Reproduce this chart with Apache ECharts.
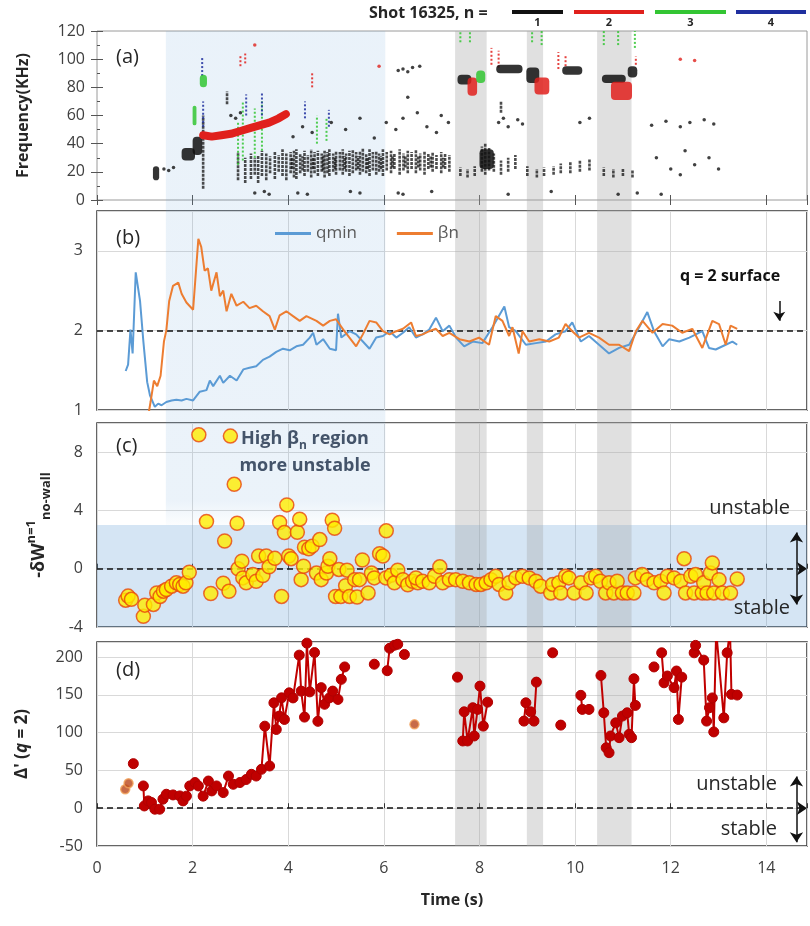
<!DOCTYPE html>
<html>
<head>
<meta charset="utf-8">
<script src="https://cdn.jsdelivr.net/npm/echarts@6/dist/echarts.min.js"></script>
<style>
  html, body { margin: 0; padding: 0; background: #fff; }
  #main { width: 810px; height: 926px; }
</style>
</head>
<body>
<div id="main"></div>
<script>
var T_MAX = 14.85;
var FONT = 'Open Sans';

// n = 1..4 mode colours of the spectrogram
var modeColors = ['#111111', '#e0201c', '#33c533', '#1f2f9f'];
var modeLabels = ['1', '2', '3', '4'];

// shaded time windows [t0, t1]
var blueWindow = [1.44, 6.03];
var greyWindows = [[7.49, 8.15], [8.99, 9.33], [10.46, 11.18]];

// (a) spectrogram: dense blobs [t0, t1, f0, f1, n]
var specBlobs = [
  [1.17, 1.30, 14, 24, 1], [1.77, 2.05, 28, 37, 1], [2.00, 2.20, 32, 45, 1],
  [7.54, 7.83, 82, 89, 1], [8.35, 8.90, 90, 96, 1], [8.98, 9.25, 83, 94, 1],
  [9.73, 10.15, 89, 95, 1], [10.56, 11.06, 83, 89, 1], [11.10, 11.30, 87, 95, 1],
  [8.00, 8.30, 22, 36, 1],
  [7.75, 7.95, 74, 87, 2], [9.15, 9.46, 75, 87, 2], [10.75, 11.19, 71, 84, 2],
  [2.15, 2.30, 80, 89, 3], [7.93, 8.12, 83, 92, 3], [2.00, 2.08, 53, 67, 3]
];
// (a) chirping n = 2 mode ridge [t, f]
var redRidge = [
  [2.22, 46], [2.4, 45], [2.6, 46], [2.8, 47], [3.0, 49], [3.2, 51],
  [3.4, 53], [3.6, 55], [3.8, 58], [3.95, 61]
];
// (a) vertical streaks [t, f0, f1, n]
var specStreaks = [
  [2.95, 14, 34, 1], [3.1, 12, 30, 1], [3.22, 15, 33, 1], [3.3, 18, 30, 1], [3.37, 12, 32, 1],
  [3.45, 17, 35, 1], [3.54, 14, 33, 1], [3.62, 19, 31, 1], [3.72, 15, 34, 1], [3.8, 20, 32, 1],
  [3.88, 17, 36, 1], [3.96, 14, 33, 1], [4.05, 19, 34, 1], [4.12, 16, 35, 1], [4.17, 15, 36, 1],
  [4.25, 19, 33, 1], [4.34, 17, 35, 1], [4.41, 20, 32, 1], [4.48, 16, 36, 1], [4.55, 19, 34, 1],
  [4.62, 17, 35, 1], [4.7, 20, 33, 1], [4.76, 16, 35, 1], [4.82, 19, 34, 1], [4.86, 17, 36, 1],
  [4.94, 20, 33, 1], [5.0, 18, 35, 1], [5.08, 21, 34, 1], [5.14, 18, 36, 1], [5.21, 20, 33, 1],
  [5.28, 17, 35, 1], [5.35, 19, 36, 1], [5.42, 21, 34, 1], [5.5, 18, 35, 1], [5.56, 20, 37, 1],
  [5.63, 19, 33, 1], [5.7, 17, 36, 1], [5.77, 21, 34, 1], [5.84, 18, 35, 1], [5.9, 20, 33, 1],
  [5.98, 17, 36, 1], [6.06, 21, 34, 1], [6.15, 19, 35, 1], [6.22, 22, 33, 1], [6.33, 18, 36, 1],
  [6.41, 21, 33, 1], [6.5, 19, 35, 1], [6.58, 22, 34, 1], [6.67, 19, 36, 1], [6.76, 21, 33, 1],
  [6.85, 18, 35, 1], [6.93, 22, 33, 1], [7.02, 20, 34, 1], [7.1, 22, 32, 1], [7.2, 19, 34, 1],
  [7.28, 22, 33, 1], [7.37, 20, 32, 1],
  [4.08, 22, 30, 1], [4.3, 21, 31, 1], [4.52, 22, 30, 1], [4.73, 21, 31, 1], [4.98, 22, 30, 1],
  [5.18, 22, 31, 1], [5.46, 22, 31, 1], [5.66, 22, 30, 1], [5.94, 22, 31, 1], [6.18, 23, 31, 1],
  [6.45, 23, 31, 1], [6.72, 23, 31, 1], [6.98, 23, 31, 1], [7.24, 23, 30, 1],
  [7.6, 17, 23, 1], [7.75, 16, 22, 1], [7.9, 17, 24, 1], [8.05, 20, 38, 1], [8.12, 18, 40, 1],
  [8.2, 21, 37, 1], [8.3, 20, 33, 1], [8.45, 18, 28, 1], [8.6, 20, 30, 1], [8.75, 22, 32, 1],
  [9.0, 17, 24, 1], [9.2, 16, 22, 1], [9.35, 17, 23, 1], [9.55, 18, 24, 1], [9.7, 19, 26, 1],
  [9.9, 19, 27, 1], [10.1, 20, 28, 1], [10.3, 21, 29, 1], [10.6, 17, 23, 1], [10.8, 16, 22, 1],
  [11.0, 17, 22, 1], [11.2, 16, 21, 1],
  [2.22, 8, 60, 1], [2.72, 68, 77, 1], [8.45, 62, 70, 1],
  [2.95, 25, 55, 3], [3.05, 28, 70, 3], [3.3, 30, 65, 3], [3.45, 35, 70, 3], [4.6, 40, 60, 3],
  [4.8, 42, 58, 3], [7.6, 112, 120, 3], [7.8, 112, 120, 3], [9.1, 112, 120, 3], [9.3, 110, 120, 3],
  [10.6, 110, 120, 3], [10.9, 110, 120, 3], [11.25, 108, 120, 3],
  [2.2, 88, 102, 4], [2.22, 52, 70, 4], [3.12, 60, 75, 4], [3.45, 60, 76, 4], [4.35, 58, 70, 4], [4.85, 52, 64, 4],
  [3.0, 95, 103, 2], [3.1, 97, 104, 2], [4.5, 80, 90, 2], [8.25, 96, 108, 2], [8.4, 94, 106, 2],
  [9.65, 93, 105, 2], [9.8, 95, 103, 2], [11.27, 96, 102, 2]
];
// (a) scattered dots [t, f, n]
var specDots = [
  [1.4, 22, 1], [1.5, 21, 1], [1.6, 23, 1], [2.8, 60, 1], [2.9, 58, 1], [3.0, 62, 1],
  [3.3, 5, 1], [3.5, 6, 1], [3.6, 4, 1], [4.2, 5, 1], [4.4, 4, 1], [5.3, 6, 1], [5.5, 5, 1],
  [6.3, 5, 1], [6.4, 4, 1], [7.0, 6, 1], [8.6, 4, 1], [9.5, 6, 1], [10.9, 4, 1], [11.3, 5, 1], [11.8, 4, 1],
  [4.1, 45, 1], [4.3, 52, 1], [4.5, 48, 1], [4.9, 55, 1], [5.2, 50, 1], [5.5, 58, 1], [5.8, 44, 1],
  [6.05, 55, 1], [6.25, 50, 1], [6.4, 58, 1], [6.7, 62, 1], [6.9, 52, 1], [7.1, 48, 1], [7.2, 60, 1], [7.35, 55, 1],
  [6.3, 92, 1], [6.4, 93, 1], [6.5, 91, 1], [6.6, 94, 1], [6.75, 95, 1], [6.5, 73, 1],
  [8.4, 55, 1], [8.5, 58, 1], [8.6, 52, 1], [8.8, 57, 1], [8.9, 54, 1], [10.3, 58, 1], [10.1, 55, 1],
  [11.6, 53, 1], [11.9, 56, 1], [12.2, 52, 1], [12.4, 55, 1], [12.7, 57, 1], [12.9, 54, 1],
  [11.7, 30, 1], [12.0, 22, 1], [12.3, 35, 1], [12.5, 25, 1], [12.8, 30, 1], [13.0, 22, 1], [12.2, 18, 1],
  [12.2, 100, 2], [12.5, 99, 2], [3.3, 110, 2], [5.9, 95, 2]
];

// (b) q_min and beta_n [t, value]
var qmin = [
  [0.6, 1.49], [0.65, 1.57], [0.7, 2.01], [0.745, 1.71], [0.81, 2.73], [0.9, 2.37], [0.97, 1.86],
  [1.05, 1.35], [1.11, 1.18], [1.21, 1.04], [1.28, 1.08], [1.35, 1.06], [1.45, 1.1], [1.56, 1.12],
  [1.66, 1.13], [1.77, 1.12], [1.87, 1.14], [2.01, 1.12], [2.15, 1.23], [2.29, 1.25], [2.36, 1.37],
  [2.43, 1.3], [2.57, 1.43], [2.64, 1.34], [2.78, 1.43], [2.92, 1.37], [3.06, 1.51], [3.19, 1.53],
  [3.33, 1.55], [3.47, 1.63], [3.61, 1.67], [3.75, 1.73], [3.89, 1.77], [4.03, 1.75], [4.17, 1.8],
  [4.31, 1.82], [4.45, 1.91], [4.52, 1.97], [4.59, 1.82], [4.73, 1.89], [4.87, 1.77], [5.0, 1.75],
  [5.04, 2.21], [5.11, 1.91], [5.28, 1.99], [5.42, 1.95], [5.56, 1.86], [5.7, 1.77], [5.84, 1.91],
  [5.98, 1.93], [6.12, 1.99], [6.26, 1.91], [6.4, 1.97], [6.53, 2.04], [6.67, 1.91], [6.81, 1.95],
  [6.95, 2.01], [7.09, 2.16], [7.23, 1.99], [7.37, 2.06], [7.51, 1.91], [7.68, 1.8], [7.86, 1.86],
  [8.06, 1.84], [8.27, 2.04], [8.52, 2.3], [8.62, 2.04], [8.76, 1.99], [8.97, 1.82], [9.18, 1.84],
  [9.39, 1.86], [9.59, 1.95], [9.8, 1.99], [9.94, 2.1], [10.12, 1.86], [10.29, 1.93], [10.5, 1.82],
  [10.71, 1.71], [10.92, 1.78], [11.13, 1.82], [11.34, 2.04], [11.51, 2.23], [11.65, 1.99], [11.83, 1.8],
  [11.97, 1.89], [12.18, 1.86], [12.39, 1.91], [12.66, 1.99], [12.8, 1.78], [12.94, 1.76], [13.15, 1.82],
  [13.29, 1.86], [13.39, 1.82]
];
var betaN = [
  [1.05, 0.85], [1.12, 1.1], [1.19, 1.37], [1.26, 1.3], [1.33, 1.43], [1.4, 1.86], [1.45, 2.0],
  [1.51, 2.37], [1.59, 2.56], [1.7, 2.6], [1.77, 2.46], [1.87, 2.35], [2.01, 2.26], [2.12, 3.15],
  [2.18, 3.05], [2.25, 2.75], [2.32, 2.78], [2.39, 2.5], [2.5, 2.73], [2.57, 2.43], [2.64, 2.5],
  [2.71, 2.24], [2.81, 2.46], [2.92, 2.31], [3.06, 2.36], [3.19, 2.28], [3.33, 2.31], [3.47, 2.24],
  [3.61, 2.18], [3.72, 2.01], [3.82, 2.19], [3.96, 2.24], [4.1, 2.18], [4.24, 2.12], [4.38, 2.18],
  [4.59, 2.12], [4.73, 2.06], [4.87, 2.12], [5.0, 2.14], [5.15, 2.01], [5.28, 1.91], [5.42, 1.8],
  [5.56, 1.95], [5.7, 2.12], [5.84, 2.1], [5.98, 1.99], [6.12, 1.95], [6.26, 1.99], [6.4, 2.02],
  [6.57, 2.1], [6.67, 1.93], [6.81, 1.95], [6.95, 1.99], [7.09, 2.02], [7.23, 1.93], [7.37, 1.97],
  [7.58, 1.89], [7.79, 1.86], [7.99, 1.91], [8.2, 1.82], [8.34, 2.18], [8.48, 2.12], [8.62, 1.93],
  [8.69, 2.04], [8.82, 1.71], [8.9, 1.99], [9.04, 1.86], [9.25, 1.89], [9.46, 1.86], [9.66, 1.91],
  [9.8, 2.08], [9.94, 1.99], [10.08, 1.91], [10.29, 1.97], [10.5, 1.91], [10.71, 1.82], [10.92, 1.82],
  [11.13, 1.74], [11.27, 1.99], [11.41, 2.12], [11.62, 1.97], [11.83, 2.08], [12.03, 2.06], [12.24, 1.97],
  [12.45, 2.02], [12.66, 1.78], [12.87, 2.12], [13.01, 2.08], [13.15, 1.82], [13.25, 2.06], [13.39, 2.02]
];

// (c) -dW (n=1, no wall) [t, value]
var deltaW = [
  [0.6, -2.16], [0.65, -1.88], [0.72, -2.1], [0.97, -3.27], [1.0, -2.5], [1.18, -2.45], [1.25, -1.66],
  [1.32, -1.9], [1.39, -1.54], [1.45, -1.43], [1.56, -1.2], [1.66, -0.97], [1.73, -1.08], [1.8, -1.2],
  [1.86, -0.97], [1.93, -0.24], [2.13, 9.19], [2.29, 3.24], [2.38, -1.7], [2.64, -1.0], [2.67, 1.9],
  [2.76, -1.55], [2.79, 9.1], [2.87, 5.79], [2.93, 3.12], [2.95, 0.0], [3.03, 0.52], [3.05, -0.63],
  [3.12, -0.97], [3.26, -0.4], [3.33, -0.86], [3.38, 0.87], [3.47, -0.47], [3.54, 0.87], [3.6, 0.13],
  [3.72, 0.71], [3.82, 3.17], [3.86, -1.9], [3.92, 2.48], [3.97, 4.38], [4.01, 0.87], [4.06, 0.69],
  [4.19, 2.5], [4.24, 3.4], [4.27, -0.75], [4.32, 0.17], [4.34, 1.48], [4.43, 1.37], [4.5, 1.55],
  [4.59, -0.3], [4.66, 2.0], [4.69, -0.75], [4.8, -0.3], [4.83, 0.17], [4.87, 0.69], [4.92, 3.33],
  [4.97, 2.78], [4.99, -1.9], [5.06, -0.05], [5.1, -1.9], [5.2, -1.17], [5.23, -0.1], [5.28, -1.9],
  [5.39, -0.75], [5.44, -1.94], [5.49, -0.75], [5.55, 0.6], [5.67, -1.66], [5.74, -0.3], [5.8, -0.63],
  [5.91, 1.03], [5.98, 0.87], [6.05, 2.6], [6.04, -0.63], [6.15, -0.45], [6.22, -0.97], [6.29, -0.1],
  [6.4, -0.75], [6.5, -1.1], [6.6, -0.86], [6.71, -0.97], [6.67, -0.63], [6.81, -0.86], [6.95, -0.97],
  [7.06, -0.52], [7.17, 0.13], [7.23, -0.97], [7.37, -0.75], [7.5, -0.75], [7.65, -0.86], [7.79, -0.97],
  [7.93, -1.08], [8.03, -1.08], [8.14, -0.97], [8.24, -0.75], [8.34, -0.52], [8.41, -1.08], [8.55, -1.66],
  [8.62, -0.97], [8.76, -0.63], [8.9, -0.52], [9.04, -0.63], [9.18, -0.86], [9.28, -1.2], [9.49, -1.66],
  [9.53, -1.08], [9.66, -0.97], [9.7, -1.66], [9.8, -0.52], [9.87, -0.63], [9.98, -1.66], [10.12, -0.97],
  [10.23, -1.66], [10.33, -0.63], [10.43, -0.52], [10.53, -0.86], [10.64, -1.66], [10.71, -0.97],
  [10.81, -1.66], [10.88, -0.86], [10.99, -1.66], [11.09, -1.66], [11.23, -1.66], [11.26, -0.63],
  [11.4, -0.4], [11.51, -0.75], [11.65, -0.97], [11.79, -0.86], [11.86, -1.66], [11.93, -0.52],
  [12.07, -0.63], [12.21, -0.86], [12.28, 0.69], [12.31, -1.66], [12.42, -0.52], [12.49, -1.66],
  [12.52, -0.4], [12.66, -1.66], [12.69, -0.97], [12.76, -1.66], [12.83, -0.3], [12.87, 0.4],
  [12.9, -1.66], [13.01, -0.75], [13.08, -1.66], [13.25, -1.66], [13.39, -0.7]
];

// (d) Delta'(q=2): connected runs [t, value]
var deltaPrimeRuns = [
  [[0.76, 59]],
  [[0.97, 29.5], [0.99, 3], [1.07, 9.7], [1.14, 7.5], [1.21, -1.3], [1.31, -1.3], [1.38, 12], [1.45, 18.5],
   [1.59, 17.6], [1.73, 16.3], [1.8, 9.7], [1.87, 16], [1.94, 29.5], [2.05, 34], [2.12, 29.5], [2.22, 16],
   [2.33, 36], [2.4, 22.9], [2.5, 29.5], [2.64, 20.7], [2.75, 42.6], [2.85, 31.7], [2.99, 34], [3.12, 38],
   [3.23, 44.9], [3.33, 42.6], [3.44, 51.5], [3.51, 108.6], [3.61, 55.9], [3.7, 139.5], [3.75, 104.2],
   [3.81, 121.9], [3.86, 146.1], [3.92, 117.5], [4.02, 152.7], [4.1, 146], [4.23, 202.6], [4.27, 155],
   [4.34, 120.6], [4.39, 218.5], [4.45, 154], [4.55, 206], [4.62, 115], [4.69, 159.6], [4.76, 137.6],
   [4.86, 146], [4.93, 155], [5.04, 144], [5.11, 170.6], [5.18, 187]],
  [[5.8, 190.6]],
  [[6.07, 182], [6.12, 211.7], [6.22, 215.7], [6.29, 217]],
  [[6.43, 203.5]],
  [[7.54, 173.5]],
  [[7.65, 89], [7.68, 127.6], [7.75, 89], [7.86, 133], [7.89, 95.6], [7.96, 130.8], [8.01, 161.6],
   [8.08, 108.7], [8.17, 140.4]],
  [[8.93, 115.3], [8.97, 139.5], [9.07, 127.6], [9.14, 115.3], [9.19, 166.9]],
  [[9.53, 205.7]],
  [[9.7, 110]],
  [[10.12, 149.4], [10.15, 130.8], [10.29, 130.8]],
  [[10.54, 175.7], [10.6, 126.3], [10.65, 80], [10.71, 73.5], [10.74, 95.6], [10.85, 113], [10.92, 93.4],
   [10.99, 122], [11.09, 126.3], [11.13, 97.8], [11.18, 93.4], [11.23, 171.3], [11.26, 136.1]],
  [[11.65, 187]],
  [[11.81, 205.7], [11.86, 166], [11.93, 175], [12.07, 159.6], [12.12, 181.6], [12.16, 117.5], [12.23, 173.5]],
  [[12.49, 205.7], [12.52, 215.5], [12.69, 196], [12.75, 115.3], [12.81, 133], [12.87, 146], [12.9, 101],
   [12.95, 235], [13.11, 119.6], [13.18, 205.7], [13.24, 235], [13.27, 150.7], [13.39, 149.8]]
];
var deltaPrimeFaint = [[0.59, 25], [0.66, 33], [6.64, 111]];

// ---- build ----
var deltaPrimeLine = [];
deltaPrimeRuns.forEach(function (run, i) {
  if (i) deltaPrimeLine.push(['-', '-']);
  run.forEach(function (p) { deltaPrimeLine.push(p); });
});

var overlayData = [[blueWindow[0], blueWindow[1], 0.3935, 1, 0]];
greyWindows.forEach(function (w) { overlayData.push([w[0], w[1], 0, 1, 1]); });

var chart = echarts.init(document.getElementById('main'));

var tickColor = '#404040';
function hideOff(step) {
  return function (v) {
    var r = Math.abs(v / step - Math.round(v / step));
    return r < 1e-6 ? String(Math.round(v * 100) / 100) : '';
  };
}
function xAx(grid, extra) {
  return Object.assign({
    type: 'value', gridIndex: grid, min: 0, max: T_MAX, interval: 2,
    axisLine: { show: false }, axisTick: { show: false }, axisLabel: { show: false },
    splitLine: { show: false }
  }, extra || {});
}
function yAx(grid, extra) {
  return Object.assign({
    type: 'value', gridIndex: grid,
    axisLine: { show: false }, axisTick: { show: false },
    axisLabel: { color: tickColor, fontSize: 16, fontFamily: FONT, margin: 12 },
    splitLine: { show: false }
  }, extra || {});
}
var gridSplit = { show: true, lineStyle: { color: '#d9d9d9', width: 1 } };

var option = {
  backgroundColor: '#fff',
  animation: false,
  textStyle: { fontFamily: FONT },
  grid: [
    { left: 97, right: 3, top: 31, height: 815, show: false },
    { left: 97, right: 3, top: 31, height: 169, show: true, borderColor: '#9a9a9a', borderWidth: 1, backgroundColor: 'transparent' },
    { left: 97, right: 3, top: 211, height: 199, show: true, borderColor: '#333', borderWidth: 1.5, backgroundColor: 'transparent' },
    { left: 97, right: 3, top: 423, height: 204, show: true, borderColor: '#333', borderWidth: 1.5, backgroundColor: 'transparent' },
    { left: 97, right: 3, top: 642, height: 204, show: true, borderColor: '#333', borderWidth: 1.5, backgroundColor: 'transparent' }
  ],
  xAxis: [
    xAx(0),
    xAx(1, { axisTick: { show: true, inside: true, length: 5, lineStyle: { color: '#555' } } }),
    xAx(1, { position: 'top', axisTick: { show: true, inside: true, length: 5, lineStyle: { color: '#555' } } }),
    xAx(2, { splitLine: gridSplit }),
    xAx(3, { splitLine: gridSplit, axisTick: { show: true, inside: true, length: 5, lineStyle: { color: '#333' } } }),
    xAx(4, {
      splitLine: gridSplit,
      axisTick: { show: true, inside: true, length: 5, lineStyle: { color: '#333' } },
      axisLabel: { show: true, color: tickColor, fontSize: 16, fontFamily: FONT, margin: 14, formatter: hideOff(2) },
      name: 'Time (s)', nameLocation: 'middle', nameGap: 46,
      nameTextStyle: { fontSize: 16, fontWeight: 'bold', color: '#262626', fontFamily: FONT }
    })
  ],
  yAxis: [
    yAx(0, { min: 0, max: 1, show: false }),
    yAx(1, {
      min: 0, max: 120, interval: 20,
      axisTick: { show: true, inside: true, length: 6, lineStyle: { color: '#555' } },
      minorTick: { show: true, splitNumber: 2, length: 3, lineStyle: { color: '#555' } },
      name: 'Frequency(KHz)', nameLocation: 'middle', nameGap: 66,
      nameTextStyle: { fontSize: 16, fontWeight: 'bold', color: '#262626', fontFamily: FONT }
    }),
    yAx(1, {
      min: 0, max: 120, interval: 20, position: 'right', axisLabel: { show: false },
      axisTick: { show: true, inside: true, length: 6, lineStyle: { color: '#555' } }
    }),
    yAx(2, { min: 1, max: 3.5, interval: 1, splitLine: gridSplit, axisLabel: { color: tickColor, fontSize: 16, fontFamily: FONT, margin: 14, formatter: hideOff(1) } }),
    yAx(3, {
      min: -4, max: 10, interval: 4, splitLine: gridSplit,
      axisLabel: { color: tickColor, fontSize: 16, fontFamily: FONT, margin: 14, formatter: hideOff(4) },
      name: '{m|-δW}{sup|n=1}{sub|no-wall}', nameLocation: 'middle', nameGap: 44,
      nameTextStyle: {
        rich: {
          m: { fontSize: 18, fontWeight: 'bold', color: '#262626', fontFamily: FONT, verticalAlign: 'bottom', padding: [0, 0, 5, 0] },
          sup: { fontSize: 13, fontWeight: 'bold', color: '#262626', fontFamily: FONT, verticalAlign: 'bottom', padding: [0, 0, 15, 0] },
          sub: { fontSize: 13, fontWeight: 'bold', color: '#262626', fontFamily: FONT, verticalAlign: 'bottom', padding: [0, 0, 0, 0] }
        }
      }
    }),
    yAx(4, {
      min: -50, max: 220, interval: 50, splitLine: gridSplit,
      axisLabel: { color: tickColor, fontSize: 16, fontFamily: FONT, margin: 14, formatter: hideOff(50) },
      name: "{m|Δ' (}{i|q}{m| = 2)}", nameLocation: 'middle', nameGap: 66,
      nameTextStyle: {
        rich: {
          m: { fontSize: 17, fontWeight: 'bold', color: '#262626', fontFamily: FONT },
          i: { fontSize: 17, fontWeight: 'bold', fontStyle: 'italic', color: '#262626', fontFamily: FONT }
        }
      }
    })
  ],
  legend: {
    data: ['qmin', 'βn'], top: 220, left: 270, itemGap: 40, itemWidth: 36, itemHeight: 3,
    icon: 'rect', textStyle: { fontSize: 17, color: '#595959', fontFamily: FONT }
  },
  graphic: [],
  series: [
    {
      type: 'custom', name: 'windows', xAxisIndex: 0, yAxisIndex: 0, z: 1, silent: true,
      data: overlayData,
      renderItem: function (params, api) {
        var p0 = api.coord([api.value(0), api.value(3)]);
        var p1 = api.coord([api.value(1), api.value(2)]);
        var isGrey = api.value(4) === 1;
        var fill = isGrey ? 'rgba(165,165,165,0.35)' : {
          type: 'linear', x: 0, y: 0, x2: 0, y2: 1,
          colorStops: [
            { offset: 0, color: 'rgba(91,155,213,0.13)' },
            { offset: 0.95, color: 'rgba(91,155,213,0.12)' },
            { offset: 1, color: 'rgba(91,155,213,0.02)' }
          ]
        };
        return { type: 'rect', shape: { x: p0[0], y: p0[1], width: p1[0] - p0[0], height: p1[1] - p0[1] }, style: { fill: fill } };
      }
    },
    {
      type: 'custom', name: 'streaks', xAxisIndex: 1, yAxisIndex: 1, z: 3, silent: true, clip: true,
      data: specStreaks,
      renderItem: function (params, api) {
        var a = api.coord([api.value(0), api.value(1)]);
        var b = api.coord([api.value(0), api.value(2)]);
        var n = api.value(3);
        return {
          type: 'line', shape: { x1: a[0], y1: a[1], x2: b[0], y2: b[1] },
          style: { stroke: modeColors[n - 1], lineWidth: n === 1 ? 2.6 : 2, lineDash: n === 1 ? [3, 1] : [2, 2], opacity: n === 1 ? 0.75 : 0.85 }
        };
      }
    },
    {
      type: 'custom', name: 'blobs', xAxisIndex: 1, yAxisIndex: 1, z: 4, silent: true, clip: true,
      data: specBlobs,
      renderItem: function (params, api) {
        var p0 = api.coord([api.value(0), api.value(3)]);
        var p1 = api.coord([api.value(1), api.value(2)]);
        var n = api.value(4);
        return {
          type: 'rect', shape: { x: p0[0], y: p0[1], width: p1[0] - p0[0], height: p1[1] - p0[1], r: 4 },
          style: { fill: modeColors[n - 1], opacity: 0.85 }
        };
      }
    },
    {
      type: 'line', name: 'n2ridge', xAxisIndex: 1, yAxisIndex: 1, z: 5, silent: true,
      data: redRidge, showSymbol: false, smooth: false,
      lineStyle: { color: modeColors[1], width: 8, cap: 'round' }
    },
    {
      type: 'scatter', name: 'dots', xAxisIndex: 1, yAxisIndex: 1, z: 4, silent: true,
      data: specDots, symbolSize: 3.5,
      itemStyle: { color: function (p) { return modeColors[p.value[2] - 1]; } }
    },
    {
      type: 'line', name: 'qmin', xAxisIndex: 3, yAxisIndex: 3, z: 5,
      data: qmin, showSymbol: false, color: '#5b9bd5',
      lineStyle: { color: '#5b9bd5', width: 2 },
      markLine: {
        silent: true, symbol: 'none', label: { show: false },
        lineStyle: { color: '#111', type: [6, 4], width: 1.6 },
        data: [{ yAxis: 2 }]
      }
    },
    {
      type: 'line', name: 'βn', xAxisIndex: 3, yAxisIndex: 3, z: 5,
      data: betaN, showSymbol: false, color: '#ed7d31',
      lineStyle: { color: '#ed7d31', width: 2 },
      markLine: {
        silent: true, symbol: ['none', 'arrow'], symbolSize: 9, label: { show: false },
        lineStyle: { color: '#111', type: 'solid', width: 1.5 },
        data: [[{ coord: [14.27, 2.37] }, { coord: [14.27, 2.12] }]]
      }
    },
    {
      type: 'scatter', name: 'dW', xAxisIndex: 4, yAxisIndex: 4, z: 5,
      data: deltaW, symbolSize: 14,
      itemStyle: { color: '#ffec00', borderColor: '#e8460c', borderWidth: 1.5 },
      markArea: {
        silent: true,
        itemStyle: { color: 'rgba(91,155,213,0.26)' },
        data: [[{ yAxis: -4 }, { yAxis: 3 }]]
      },
      markLine: {
        silent: true, label: { show: false }, symbolSize: 10,
        data: [
          { yAxis: 0, symbol: 'none', lineStyle: { color: '#111', type: [6, 4], width: 1.6 } },
          [{ coord: [14.63, 2.48], symbol: 'arrow', lineStyle: { color: '#111', type: 'solid', width: 1.5 } },
           { coord: [14.63, -2.46], symbol: 'arrow' }]
        ]
      }
    },
    {
      type: 'line', name: 'deltaPrime', xAxisIndex: 5, yAxisIndex: 5, z: 5,
      data: deltaPrimeLine, connectNulls: false, showAllSymbol: true, symbol: 'circle', symbolSize: 10,
      lineStyle: { color: '#c00000', width: 2 },
      itemStyle: { color: '#c00000', borderColor: '#b00000', borderWidth: 1 },
      markLine: {
        silent: true, label: { show: false }, symbolSize: 10,
        data: [
          { yAxis: 0, symbol: 'none', lineStyle: { color: '#111', type: [6, 4], width: 1.6 } },
          [{ coord: [14.63, 42], symbol: 'arrow', lineStyle: { color: '#111', type: 'solid', width: 1.5 } },
           { coord: [14.63, -45], symbol: 'arrow' }]
        ]
      }
    },
    {
      type: 'scatter', name: 'deltaPrimeFaint', xAxisIndex: 5, yAxisIndex: 5, z: 5,
      data: deltaPrimeFaint, symbolSize: 9,
      itemStyle: { color: '#b9461a', borderColor: '#f2a35a', borderWidth: 1.5 }
    }
  ]
};

// header: shot number and n-mode colour key
var g = option.graphic;
g.push({ type: 'text', left: 369, top: 5, style: { text: 'Shot 16325, n =', fontSize: 16, fontWeight: 'bold', fill: '#262626', fontFamily: FONT } });
var keyX = [512, 574, 655, 736], keyW = [51, 70, 71, 70];
modeColors.forEach(function (c, i) {
  g.push({ type: 'rect', shape: { x: keyX[i], y: 10, width: keyW[i], height: 4 }, style: { fill: c } });
  g.push({ type: 'text', x: keyX[i] + keyW[i] / 2, y: 17, style: { text: modeLabels[i], fontSize: 11, fontWeight: 'bold', fill: '#262626', align: 'center', fontFamily: FONT } });
});
// panel tags
[['(a)', 47], ['(b)', 228], ['(c)', 436], ['(d)', 660]].forEach(function (t) {
  g.push({ type: 'text', left: 116, top: t[1], z: 20, style: { text: t[0], fontSize: 20, fill: '#262626', fontFamily: FONT } });
});
// annotations
g.push({ type: 'text', left: 680, top: 268, z: 20, style: { text: 'q = 2 surface', fontSize: 16, fontWeight: 'bold', fill: '#111', fontFamily: FONT } });
g.push({
  type: 'text', x: 305, y: 425, z: 20,
  style: {
    text: '{b|High β}{s|n}{b| region}\n{b|more unstable}', align: 'center', fontFamily: FONT,
    rich: {
      b: { fontSize: 18, fontWeight: 'bold', fill: '#44546a', lineHeight: 27, fontFamily: FONT },
      s: { fontSize: 12, fontWeight: 'bold', fill: '#44546a', lineHeight: 27, verticalAlign: 'bottom', padding: [6, 0, 0, 0], fontFamily: FONT }
    }
  }
});
[['unstable', 790, 498], ['stable', 790, 598], ['unstable', 777, 774], ['stable', 777, 819]].forEach(function (t) {
  g.push({ type: 'text', x: t[1], y: t[2], z: 20, style: { text: t[0], fontSize: 20, fill: '#262626', align: 'right', fontFamily: FONT } });
});

chart.setOption(option);
</script>
</body>
</html>
